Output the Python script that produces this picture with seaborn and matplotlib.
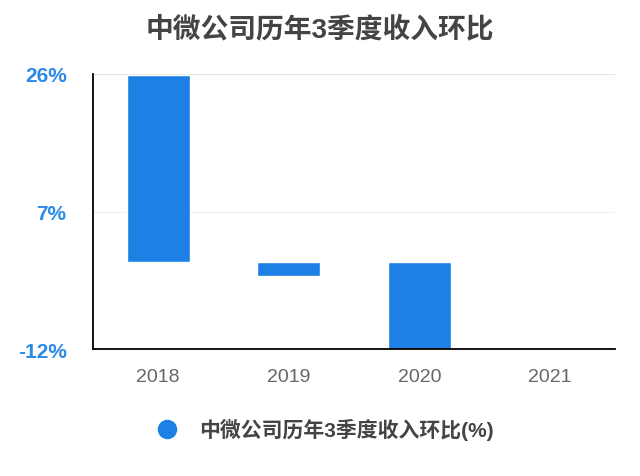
import numpy as np
import pandas as pd
import seaborn as sns
import matplotlib.pyplot as plt
from matplotlib.lines import Line2D

# Chart data
years = ["2018", "2019", "2020", "2021"]
ratio = [25.9, -1.9, -12.5, np.nan]   # 2021 has no value
y_ticks = [-12, 7, 26]
title = "中微公司历年3季度收入环比"
series_name = "中微公司历年3季度收入环比(%)"

df = pd.DataFrame({"year": years, "ratio": ratio})

sns.set_style("white")
plt.rcParams['font.family'] = ['Liberation Sans', 'Noto Sans CJK SC', 'DejaVu Sans']

bar_color = "#1c80e4"
blue_text = "#2a8ae8"

fig = plt.figure(figsize=(6.4, 4.77), dpi=100)
ax = fig.add_axes([0.1453, 0.2662, 0.961 - 0.1453, 0.8428 - 0.2662])

sns.barplot(data=df, x="year", y="ratio", order=years, color=bar_color,
            width=0.48, saturation=1, ax=ax, errorbar=None)

ax.set_xlim(-0.5, 3.5)
ax.set_ylim(-12, 26)
ax.set_yticks(y_ticks)
ax.set_yticklabels([str(t) + "%" for t in y_ticks])
ax.set_xlabel("")
ax.set_ylabel("")

# light grid lines
ax.axhline(26, color="#e4e4e4", lw=1.6, zorder=0)
ax.axhline(7, color="#f1f1f1", lw=1.0, zorder=0)

# spines
for s in ["top", "right"]:
    ax.spines[s].set_visible(False)
ax.spines["left"].set_color("black")
ax.spines["bottom"].set_color("black")
ax.spines["left"].set_linewidth(1.3)
ax.spines["bottom"].set_linewidth(1.3)

ax.tick_params(axis="y", direction="out", length=12, width=1.3, color="black",
               pad=7, labelsize=15, labelcolor=blue_text)
for lab in ax.get_yticklabels():
    lab.set_fontweight("bold")
ax.tick_params(axis="x", direction="out", length=12, width=1.3, color="black",
               pad=2, labelsize=14, labelcolor="#666666")

fig.text(0.5, 1 - 30 / 477, title, ha="center", va="center",
         fontsize=20, fontweight="bold", color="#444444")

handle = Line2D([], [], marker="o", linestyle="none", markersize=13,
                markerfacecolor=bar_color, markeredgecolor=bar_color)
fig.legend([handle], [series_name], loc="center", bbox_to_anchor=(0.5, 1 - 430 / 477),
           frameon=False, prop={"size": 15, "weight": "bold"}, labelcolor="#444444",
           handletextpad=0.5)

plt.savefig("out.png", dpi=100)
